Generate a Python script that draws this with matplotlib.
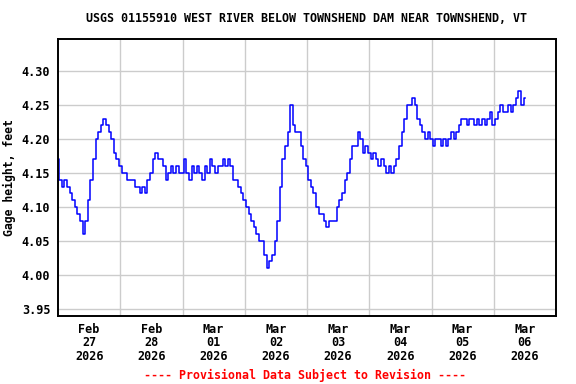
import matplotlib
matplotlib.use("Agg")
import matplotlib.pyplot as plt
import numpy as np

# Hourly gage height readings (feet), starting Feb 27 2026 00:00
feb27 = [4.17, 4.14, 4.13, 4.14, 4.13, 4.12, 4.11, 4.10, 4.09, 4.08, 4.06, 4.08,
         4.11, 4.14, 4.17, 4.20, 4.21, 4.22, 4.23, 4.22, 4.21, 4.20, 4.18, 4.17]
feb28 = [4.16, 4.15, 4.15, 4.14, 4.14, 4.14, 4.13, 4.13, 4.12, 4.13, 4.12, 4.14,
         4.15, 4.17, 4.18, 4.17, 4.17, 4.16, 4.14, 4.15, 4.16, 4.15, 4.16, 4.15]
mar01 = [4.15, 4.17, 4.15, 4.14, 4.16, 4.15, 4.16, 4.15, 4.14, 4.16, 4.15, 4.17,
         4.16, 4.15, 4.16, 4.16, 4.17, 4.16, 4.17, 4.16, 4.14, 4.14, 4.13, 4.12]
mar02 = [4.11, 4.10, 4.09, 4.08, 4.07, 4.06, 4.05, 4.05, 4.03, 4.01, 4.02, 4.03,
         4.05, 4.08, 4.13, 4.17, 4.19, 4.21, 4.25, 4.22, 4.21, 4.21, 4.19, 4.17]
mar03 = [4.16, 4.14, 4.13, 4.12, 4.10, 4.09, 4.09, 4.08, 4.07, 4.08, 4.08, 4.08,
         4.10, 4.11, 4.12, 4.14, 4.15, 4.17, 4.19, 4.19, 4.21, 4.20, 4.18, 4.19]
mar04 = [4.18, 4.17, 4.18, 4.17, 4.16, 4.17, 4.16, 4.15, 4.16, 4.15, 4.16, 4.17,
         4.19, 4.21, 4.23, 4.25, 4.25, 4.26, 4.25, 4.23, 4.22, 4.21, 4.20, 4.21]
mar05 = [4.20, 4.19, 4.20, 4.20, 4.19, 4.20, 4.19, 4.20, 4.21, 4.20, 4.21, 4.22,
         4.23, 4.23, 4.22, 4.23, 4.23, 4.22, 4.23, 4.22, 4.23, 4.22, 4.23, 4.24]
mar06 = [4.22, 4.23, 4.24, 4.25, 4.24, 4.24, 4.25, 4.24, 4.25, 4.26, 4.27, 4.25, 4.26]

day_labels = ["Feb\n27\n2026", "Feb\n28\n2026", "Mar\n01\n2026", "Mar\n02\n2026",
              "Mar\n03\n2026", "Mar\n04\n2026", "Mar\n05\n2026", "Mar\n06\n2026"]
y_ticks = [3.95, 4.00, 4.05, 4.10, 4.15, 4.20, 4.25, 4.30]

values = np.array(feb27 + feb28 + mar01 + mar02 + mar03 + mar04 + mar05 + mar06)
hours = np.arange(len(values))  # hours since Feb 27 00:00

mono = "DejaVu Sans Mono"

fig = plt.figure(figsize=(5.76, 3.84), dpi=100)
ax = fig.add_axes([58/576, 1 - 316/384, 498/576, 277/384])

ax.plot(hours, values, color="#0000ff", linewidth=1.1, drawstyle="steps-mid")

ax.set_xlim(0, 24 * len(day_labels))
ax.set_ylim(3.9397, 4.347)

ax.set_yticks(y_ticks)
ax.set_yticklabels([f"{v:.2f}" for v in y_ticks], fontfamily=mono,
                   fontweight="bold", fontsize=8.5)
ax.set_xticks([24 * i + 12 for i in range(len(day_labels))])
ax.set_xticklabels(day_labels, fontfamily=mono, fontweight="bold", fontsize=8.5,
                   linespacing=1.05)
ax.set_xticks([24 * i for i in range(1, len(day_labels))], minor=True)

ax.tick_params(axis="both", which="both", length=0)
ax.tick_params(axis="y", pad=5.5)
ax.tick_params(axis="x", pad=5)

ax.grid(True, axis="y", which="major", color="#cccccc", linewidth=1)
ax.grid(True, axis="x", which="minor", color="#cccccc", linewidth=1)
ax.set_axisbelow(True)

for s in ax.spines.values():
    s.set_linewidth(1.4)
    s.set_color("black")

ax.set_ylabel("Gage height, feet", fontfamily=mono, fontweight="bold", fontsize=8.3)
ax.yaxis.set_label_coords(-0.085, 0.5)

fig.text(306/576, 1 - 19/384, "USGS 01155910 WEST RIVER BELOW TOWNSHEND DAM NEAR TOWNSHEND, VT",
         ha="center", va="center", fontfamily=mono, fontweight="bold", fontsize=8.4)
fig.text(305/576, 1 - 375/384, "---- Provisional Data Subject to Revision ----",
         ha="center", va="center", fontfamily=mono, fontweight="bold", fontsize=8.4,
         color="red")

fig.savefig("out.png", dpi=100, facecolor="white")
